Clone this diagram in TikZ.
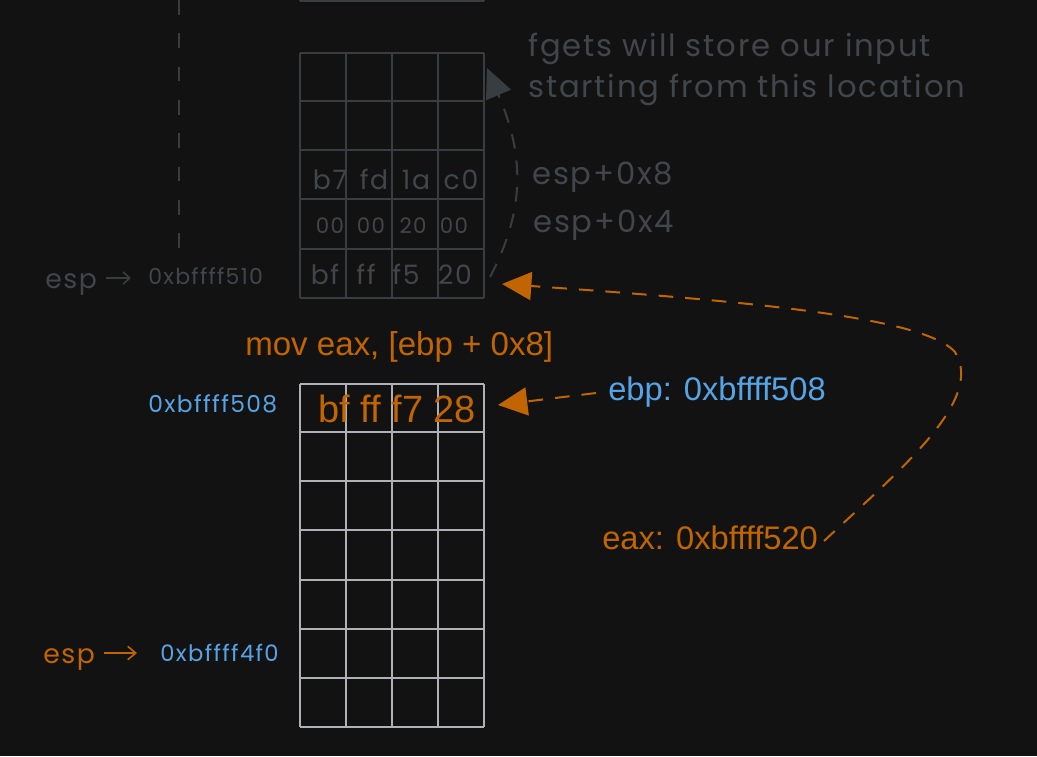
\documentclass[tikz,border=0pt]{standalone}
\usepackage{fontspec}
\setmainfont{Liberation Sans}
\newfontfamily\handfont[LetterSpace=6]{Poppins}
\usetikzlibrary{arrows.meta}
\definecolor{bg}{RGB}{18,18,18}
\definecolor{dimline}{RGB}{56,61,66}
\definecolor{dimtxt}{RGB}{64,70,76}
\definecolor{org}{RGB}{193,101,3}
\definecolor{blu}{RGB}{86,164,230}
\definecolor{lgray}{RGB}{174,178,182}
\tikzset{
  hw/.style={font=\handfont\fontsize{#1}{#1}\selectfont, inner sep=0pt},
  sans/.style={font=\fontsize{#1}{#1}\selectfont, inner sep=0pt},
  gdim/.style={draw=dimline, line width=1.5pt},
  glight/.style={draw=lgray, line width=1.5pt},
  dashline/.style={line width=1.5pt, dash pattern=on 11pt off 9pt},
}
\begin{document}
\begin{tikzpicture}[x=0.75pt,y=-0.75pt]
\useasboundingbox[fill=bg] (0,0) rectangle (1037,756);

% dashed vertical line (dim)
\draw[dimline, line width=1.5pt, dash pattern=on 11pt off 14pt] (179,0) -- (179,252);

% top partial grid
\draw[gdim] (300,1) -- (484,1);
\foreach \x in {300,346,392,438,484} \draw[gdim] (\x,-5) -- (\x,1);
% top grid
\foreach \x in {300,346,392,438,484} \draw[gdim] (\x,53) -- (\x,298);
\foreach \y in {53,101,150,199,249,298} \draw[gdim] (300,\y) -- (484,\y);

% bytes in top grid
\node[hw=20, text=dimtxt, anchor=base] (b1) at (330,189) {b7};
\node[hw=20, text=dimtxt, anchor=base] (b2) at (374,189) {fd};
\node[hw=20, text=dimtxt, anchor=base] (b3) at (416,189) {1a};
\node[hw=20, text=dimtxt, anchor=base] (b4) at (461,189) {c0};
\node[hw=16, text=dimtxt, anchor=base] (c1) at (330,233) {00};
\node[hw=16, text=dimtxt, anchor=base] (c2) at (371,233) {00};
\node[hw=16, text=dimtxt, anchor=base] (c3) at (413,233) {20};
\node[hw=16, text=dimtxt, anchor=base] (c4) at (454,233) {00};
\node[hw=20, text=dimtxt, anchor=base] (d1) at (325,284) {bf};
\node[hw=20, text=dimtxt, anchor=base] (d2) at (366,284) {ff};
\node[hw=20, text=dimtxt, anchor=base] (d3) at (406,284) {f5};
\node[hw=20, text=dimtxt, anchor=base] (d4) at (455,284) {20};

% annotations (dim)
\node[hw=23, text=dimtxt, anchor=base west] (fg1) at (528,57) {fgets will store our input};
\node[hw=23, text=dimtxt, anchor=base west] (fg2) at (528,98) {starting from this location};
\node[hw=23, text=dimtxt, anchor=base west] (e8) at (532,184) {esp+0x8};
\node[hw=23, text=dimtxt, anchor=base west] (e4) at (533,232) {esp+0x4};

\node[hw=20, text=dimtxt, anchor=base west] (espa) at (45,288) {esp};
\node[hw=16.5, text=dimtxt, anchor=base west] (adra) at (148,284) {0xbffff510};
\coordinate (arA1) at (106,278);
\coordinate (arA2) at (131,278);
\draw[dimline, line width=1.2pt, -{Straight Barb[length=5pt,width=9pt]}] (arA1) -- (arA2);

% dim dashed arrow
\coordinate (dimS) at (490,277);
\coordinate (dimT) at (487,68);
\draw[dimline, dashline, -{Triangle[length=22pt,width=20pt]}] (dimS) .. controls (528,205) and (522,150) .. (dimT);

% bottom grid
\foreach \x in {300,346,392,438,484} \draw[glight] (\x,384) -- (\x,727);
\foreach \y in {384,432,481,530,580,629,678,727} \draw[glight] (300,\y) -- (484,\y);

% orange / blue texts
\node[sans=24.8, text=org, anchor=base west] (mov) at (245,355) {mov eax, [ebp + 0x8]};
\node[sans=28.5, text=org, anchor=base west] (bff) at (318,422) {bf ff f7 28};
\node[sans=24.5, text=blu, anchor=base west] (ebp) at (608,400) {ebp: 0xbffff508};
\node[sans=24.5, text=org, anchor=base west] (eax) at (602,549) {eax: 0xbffff520};

\node[hw=17.5, text=blu, anchor=base west] (adrb) at (148,412) {0xbffff508};
\node[hw=20, text=org, anchor=base west] (espb) at (43,663) {esp};
\node[hw=17, text=blu, anchor=base west] (adrc) at (160,661) {0xbffff4f0};
\coordinate (arB1) at (104,653);
\coordinate (arB2) at (137,653);
\draw[org, line width=1.2pt, -{Straight Barb[length=6pt,width=10pt]}] (arB1) -- (arB2);

% orange dashed arrows
\coordinate (ebpS) at (596,393);
\coordinate (ebpT) at (498,405);
\draw[org, dashline, -{Triangle[length=22pt,width=21pt]}] (ebpS) -- (ebpT);

\coordinate (eaxS) at (824,541);
\coordinate (eaxT) at (502,284);
\draw[org, dashline, -{Triangle[length=22pt,width=21pt]}]
  (eaxS) .. controls (900,470) and (985,400) .. (955,352)
  .. controls (925,318) and (760,302) .. (eaxT);
\end{tikzpicture}
\end{document}
